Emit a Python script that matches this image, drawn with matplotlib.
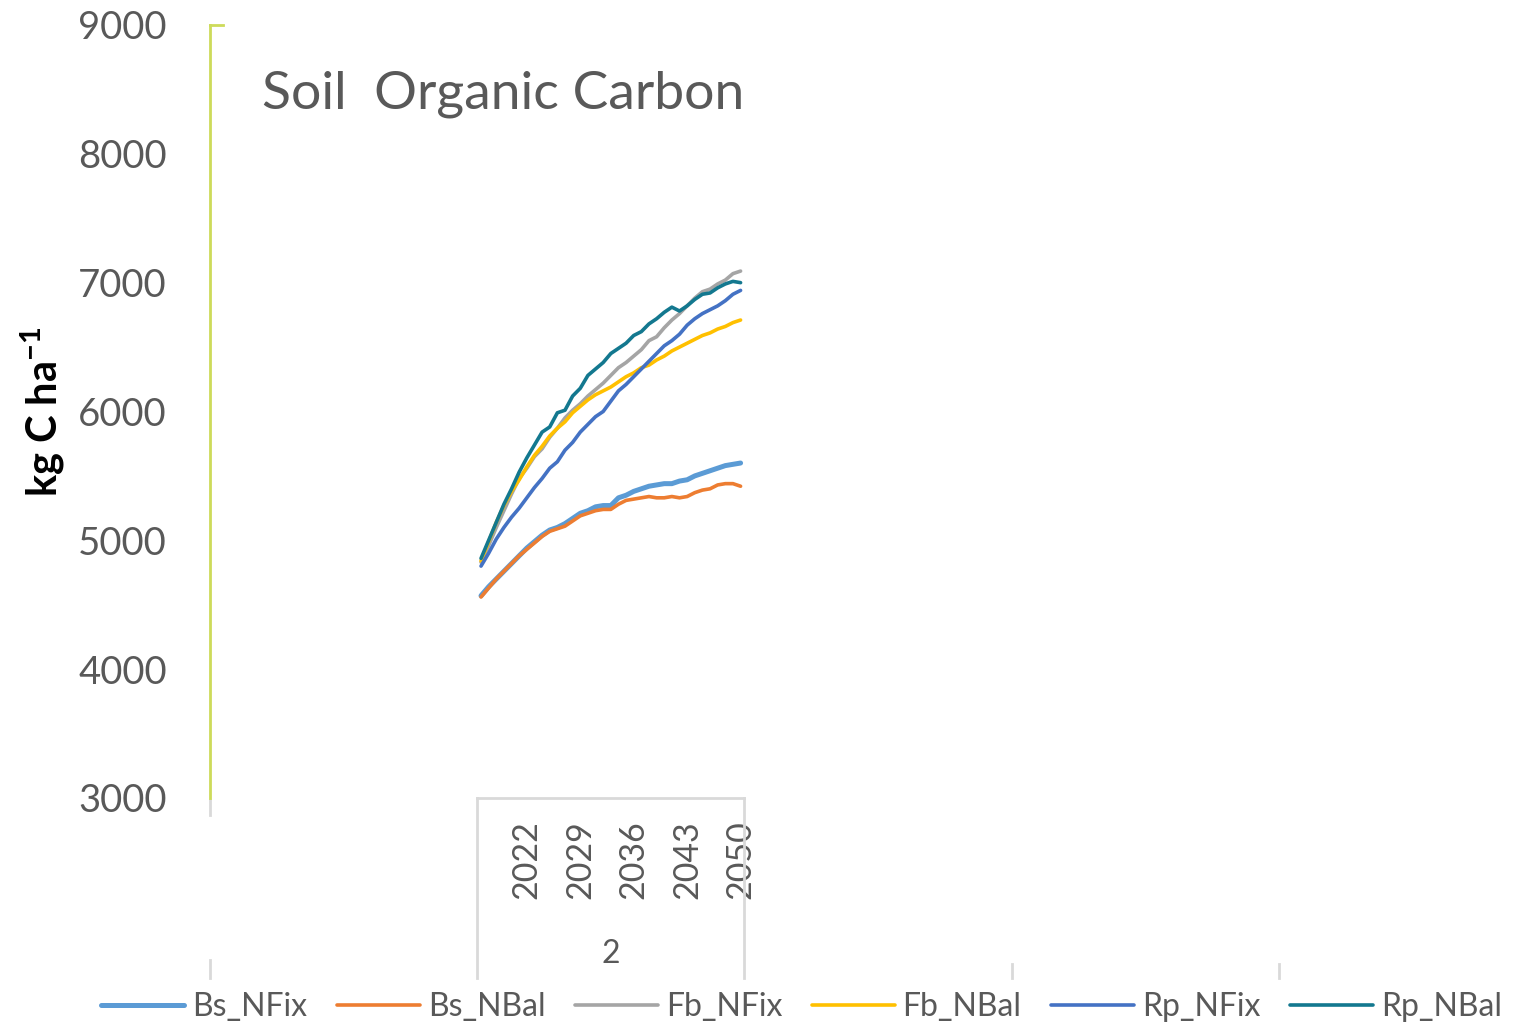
import matplotlib
matplotlib.use("Agg")
import matplotlib.pyplot as plt
import numpy as np

# years of the one visible group ("2"), 35 categories
years = list(range(2016, 2051))
group_labels = ["2"]
year_ticks = [2022, 2029, 2036, 2043, 2050]

series_names = ["Bs_NFix", "Bs_NBal", "Fb_NFix", "Fb_NBal", "Rp_NFix", "Rp_NBal"]
series_colors = ["#5B9BD5", "#ED7D31", "#A5A5A5", "#FFC000", "#4472C4", "#13788F"]

bs_nfix = [4570, 4640, 4700, 4760, 4820, 4880, 4940, 4990, 5040, 5080, 5100, 5130,
           5170, 5210, 5230, 5260, 5270, 5270, 5330, 5350, 5380, 5400, 5420, 5430,
           5440, 5440, 5460, 5470, 5500, 5520, 5540, 5560, 5580, 5590, 5600]
bs_nbal = [4560, 4630, 4700, 4760, 4820, 4880, 4930, 4980, 5030, 5070, 5090, 5110,
           5150, 5190, 5210, 5230, 5240, 5240, 5280, 5310, 5320, 5330, 5340, 5330,
           5330, 5340, 5330, 5340, 5370, 5390, 5400, 5430, 5440, 5440, 5420]
fb_nfix = [4830, 4960, 5100, 5230, 5360, 5480, 5560, 5650, 5710, 5800, 5870, 5950,
           6010, 6060, 6120, 6170, 6220, 6280, 6340, 6380, 6430, 6480, 6550, 6580,
           6650, 6710, 6760, 6820, 6880, 6930, 6950, 6990, 7020, 7070, 7090]
fb_nbal = [4840, 4990, 5140, 5270, 5380, 5470, 5570, 5660, 5730, 5810, 5870, 5920,
           5990, 6040, 6090, 6130, 6160, 6190, 6230, 6270, 6300, 6340, 6360, 6400,
           6430, 6470, 6500, 6530, 6560, 6590, 6610, 6640, 6660, 6690, 6710]
rp_nfix = [4800, 4900, 5010, 5100, 5180, 5250, 5330, 5410, 5480, 5560, 5610, 5700,
           5760, 5840, 5900, 5960, 6000, 6080, 6160, 6210, 6270, 6330, 6390, 6450,
           6510, 6550, 6600, 6670, 6720, 6760, 6790, 6820, 6860, 6910, 6940]
rp_nbal = [4860, 5000, 5140, 5280, 5400, 5530, 5640, 5740, 5840, 5880, 5990, 6010,
           6120, 6180, 6280, 6330, 6380, 6450, 6490, 6530, 6590, 6620, 6680, 6720,
           6770, 6810, 6780, 6820, 6870, 6910, 6920, 6960, 6990, 7010, 7000]

series_values = [bs_nfix, bs_nbal, fb_nfix, fb_nbal, rp_nfix, rp_nbal]
series_widths = [3.6, 2.6, 2.6, 2.6, 2.6, 2.6]

plt.rcParams['font.family'] = ['Lato', 'DejaVu Sans']
text_gray = "#595959"
axis_gray = "#D9D9D9"

W, H = 1513, 1027
fig = plt.figure(figsize=(W / 100, H / 100), dpi=100)

n_cat = len(years)
n_groups = 5
# plot area: left edge at 210 px, each group ~267 px wide, runs past the right edge
ax = fig.add_axes([210 / W, (H - 798) / H, 267.2 * n_groups / W, (798 - 25) / H])

offset = n_cat  # group "2" is the second block of categories
xpos = np.arange(n_cat) + offset
for name, vals, col, lw in zip(series_names, series_values, series_colors, series_widths):
    ax.plot(xpos, vals, color=col, lw=lw, label=name, solid_capstyle='round')

ax.set_xlim(-0.5, n_cat * n_groups - 0.5)
ax.set_ylim(3000, 9000)
ax.set_yticks(range(3000, 9001, 1000))
ax.tick_params(axis='y', length=0, pad=31, labelsize=27.5, labelcolor=text_gray)

tick_idx = [years.index(y) + offset for y in year_ticks]
ax.set_xticks(tick_idx)
ax.set_xticklabels([str(y) for y in year_ticks], rotation=90)
ax.tick_params(axis='x', length=0, pad=16, labelsize=24.5, labelcolor=text_gray)

for s in ["top", "right", "bottom"]:
    ax.spines[s].set_visible(False)
ax.spines["left"].set_color("#CDDB5A")
ax.spines["left"].set_linewidth(2)

tr = ax.get_xaxis_transform()
# small tick at the top of the value axis
ax.plot([-0.5, 1.2], [1, 1], transform=tr, color="#CDDB5A", lw=2, clip_on=False)

# multi-level category axis lines
gb = -0.233
left_edge = -0.5
g2_l, g2_r = offset - 0.5, offset + n_cat - 0.5
ax.plot([g2_l, g2_r], [0, 0], transform=tr, color=axis_gray, lw=2, clip_on=False)
for xb in [g2_l, g2_r]:
    ax.plot([xb, xb], [0, gb], transform=tr, color=axis_gray, lw=2, clip_on=False)
ax.plot([left_edge, left_edge], [-0.002, -0.022], transform=tr, color=axis_gray, lw=2, clip_on=False)
ax.plot([left_edge, left_edge], [-0.21, gb], transform=tr, color=axis_gray, lw=2, clip_on=False)
for g in [3, 4]:
    xb = n_cat * g - 0.5
    ax.plot([xb, xb], [-0.215, gb], transform=tr, color=axis_gray, lw=2, clip_on=False)

ax.text(offset + (n_cat - 1) / 2, -0.202, group_labels[0], transform=tr, ha='center',
        va='center', fontsize=23, color=text_gray)

ax.text(0.039, 0.91, "Soil  Organic Carbon", transform=ax.transAxes, fontsize=38.5,
        color=text_gray, ha='left', va='center')

fig.text(43 / W, 1 - 412 / H, "kg C ha$^{\\mathregular{-1}}$", rotation=90, ha='center',
         va='center', fontsize=30, fontweight='bold', color='black')

fig.legend(loc='center', bbox_to_anchor=(0.5 + 45 / W, 1 - 1007 / H), ncol=6, frameon=False,
           fontsize=23, handlelength=2.6, handletextpad=0.25, columnspacing=0.92,
           labelcolor=text_gray)

fig.savefig("out.png", dpi=100)
